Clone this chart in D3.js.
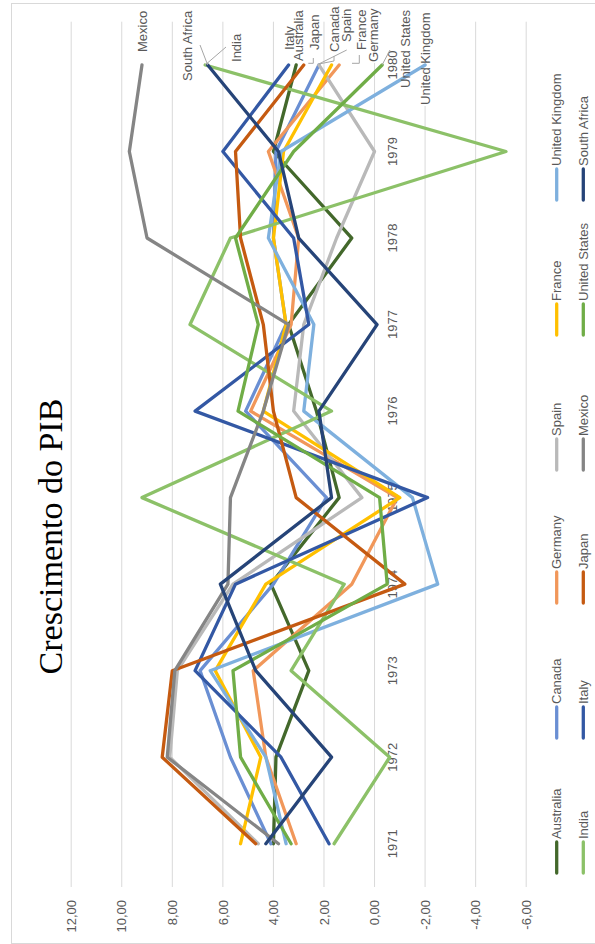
<!DOCTYPE html>
<html><head><meta charset="utf-8">
<script src="https://cdn.jsdelivr.net/npm/d3@7"></script>
<style>html,body{margin:0;padding:0;background:#fff;}svg{display:block;}</style>
</head><body>
<svg id="chart" width="595" height="944"></svg>
<script>
const years = ["1971","1972","1973","1974","1975","1976","1977","1978","1979","1980"];
const valueTicks = [-6,-4,-2,0,2,4,6,8,10,12];
const title = "Crescimento do PIB";

const countries = ["Australia","Canada","Germany","Spain","France","United Kingdom",
                   "India","Italy","Japan","Mexico","United States","South Africa"];
const australia     = [4.0, 3.9, 2.6, 4.1, 1.4, 2.3, 3.4, 0.9, 4.0, 3.1];
const canada        = [4.1, 5.7, 6.9, 4.0, 1.9, 5.1, 3.5, 4.0, 3.9, 2.2];
const germany       = [3.1, 4.3, 4.8, 0.9, -0.9, 4.9, 3.3, 3.0, 4.2, 1.4];
const spain         = [4.6, 8.1, 7.8, 5.6, 0.5, 3.2, 2.8, 1.5, 0.0, 2.2];
const france        = [5.3, 4.5, 6.3, 4.3, -1.0, 4.4, 3.5, 4.0, 3.6, 1.7];
const unitedKingdom = [3.5, 4.3, 6.5, -2.5, -1.5, 2.8, 2.4, 4.2, 3.7, -2.0];
const india         = [1.6, -0.6, 3.3, 1.2, 9.2, 1.7, 7.3, 5.7, -5.2, 6.7];
const italy         = [1.8, 3.7, 7.1, 5.5, -2.1, 7.1, 2.6, 3.2, 6.0, 3.4];
const japan         = [4.7, 8.4, 8.0, -1.2, 3.1, 4.0, 4.4, 5.3, 5.5, 2.8];
const mexico        = [3.8, 8.2, 7.9, 5.8, 5.7, 4.4, 3.4, 9.0, 9.7, 9.2];
const unitedStates  = [3.3, 5.3, 5.6, -0.5, -0.2, 5.4, 4.6, 5.5, 3.2, -0.3];
const southAfrica   = [4.3, 1.7, 4.7, 6.1, 1.7, 2.2, -0.1, 3.0, 3.8, 6.6];

const seriesValues = [australia, canada, germany, spain, france, unitedKingdom,
                      india, italy, japan, mexico, unitedStates, southAfrica];

// styling / layout (not data)
const colors = ["#43682b","#6a8fd3","#f1975a","#b9b9b9","#ffc000","#7eb0de",
                "#8cc168","#3358a4","#c55a11","#858585","#70ad47","#264478"];
// end-label placement relative to the last point: [dx, dy] in chart (landscape) space
const labelOffset = {
  "Mexico":[13,0], "South Africa":[-16,-20], "India":[3,31.5], "Italy":[15,0.7],
  "Australia":[4,2], "Japan":[15,10.8], "Canada":[13,16], "Spain":[23,28],
  "France":[15,29.5], "Germany":[3,34], "United States":[-23,23], "United Kingdom":[-40,0]
};

const svg = d3.select("#chart");
const g = svg.append("g").attr("transform", "translate(0,944) rotate(-90)");
const font = "'Liberation Sans', Arial, sans-serif";
const textCol = "#595959";

// chart frame
g.append("rect").attr("x", 0.5).attr("y", 11.5).attr("width", 940).attr("height", 600)
  .attr("fill", "#fff").attr("stroke", "#d9d9d9").attr("stroke-width", 1);

const x = d3.scaleBand().domain(years).range([57, 922.3]);
const y = d3.scaleLinear().domain([-6, 12]).range([526.2, 71.2]);
const xc = d => x(d) + x.bandwidth() / 2;

// gridlines
g.append("g").selectAll("line").data(valueTicks).join("line")
  .attr("x1", 57).attr("x2", 922.3)
  .attr("y1", d => y(d)).attr("y2", d => y(d))
  .attr("stroke", "#d9d9d9").attr("stroke-width", 1);

// value axis labels
const yAxis = d3.axisLeft(y).tickValues(valueTicks).tickSize(0).tickPadding(0)
  .tickFormat(d => d.toFixed(2).replace(".", ","));
const ya = g.append("g").attr("transform", "translate(44,0)").call(yAxis);
ya.select(".domain").remove();
ya.selectAll("text").attr("font-family", font).attr("font-size", 13).attr("fill", textCol);

// title
g.append("text").attr("x", 407.5).attr("y", 62).attr("text-anchor", "middle")
  .attr("font-family", "'Liberation Serif','Times New Roman',serif").attr("font-size", 34)
  .attr("fill", "#000").text(title);

// label backgrounds (hide gridlines beneath end labels)
const lastIdx = years.length - 1;
const labelLayer = [];
countries.forEach((c, i) => {
  const px = xc(years[lastIdx]), py = y(seriesValues[i][lastIdx]);
  const o = labelOffset[c];
  labelLayer.push({name: c, x: px + o[0], y: py + o[1]});
});
const tmp = g.append("g");
labelLayer.forEach(l => {
  const t = tmp.append("text").attr("x", l.x).attr("y", l.y).attr("dy", "0.35em")
    .attr("font-family", font).attr("font-size", 13).text(l.name);
  l.box = t.node().getBBox();
  t.remove();
});
g.append("g").selectAll("rect").data(labelLayer).join("rect")
  .attr("x", d => d.box.x - 1).attr("y", d => d.box.y + 1)
  .attr("width", d => d.box.width + 2).attr("height", d => d.box.height - 2)
  .attr("fill", "#fff");

// category axis labels along the zero line
const xAxis = d3.axisBottom(x).tickSize(0).tickPadding(0);
const xa = g.append("g").attr("transform", `translate(0,${y(0) + 13})`).call(xAxis);
xa.select(".domain").remove();
xa.selectAll("text").attr("font-family", font).attr("font-size", 13).attr("fill", textCol);

// series lines
const line = d3.line().x((d, i) => xc(years[i])).y(d => y(d));
g.append("g").selectAll("path").data(seriesValues).join("path")
  .attr("d", d => line(d)).attr("fill", "none")
  .attr("stroke", (d, i) => colors[i]).attr("stroke-width", 3.3)
  .attr("stroke-linejoin", "round").attr("stroke-linecap", "round");

// leader lines
const pt = name => { const i = countries.indexOf(name); return [xc(years[lastIdx]), y(seriesValues[i][lastIdx])]; };
const leaders = [
  [pt("South Africa"), [899, 200]],
  [pt("India"), [897, 226]],
  [[886, 313.3], [880.7, 313.3], [880.7, 308.3]],
  [[pt("Canada")[0] + 1, pt("Canada")[1]], [883, 334], [888, 334]],
  [[pt("Spain")[0] + 1, pt("Spain")[1]], [894, 346.7]],
  [[889, 359.3], [880.7, 359.3], [880.7, 352]],
  [pt("United States"), [894, 390]]
];
g.append("g").selectAll("path").data(leaders).join("path")
  .attr("d", d => d3.line()(d)).attr("fill", "none")
  .attr("stroke", "#a6a6a6").attr("stroke-width", 1);

// end labels
g.append("g").selectAll("text").data(labelLayer).join("text")
  .attr("x", d => d.x).attr("y", d => d.y).attr("dy", "0.35em")
  .attr("font-family", font).attr("font-size", 13).attr("fill", textCol)
  .text(d => d.name);

// legend
const legX = [71, 206, 341, 474, 609, 744];
const legY = [556.7, 583.3];
const leg = g.append("g");
countries.forEach((c, i) => {
  const col = i % 6, row = Math.floor(i / 6);
  const lx = legX[col], ly = legY[row];
  leg.append("line").attr("x1", lx).attr("x2", lx + 31).attr("y1", ly).attr("y2", ly)
    .attr("stroke", colors[i]).attr("stroke-width", 3.3).attr("stroke-linecap", "round");
  leg.append("text").attr("x", lx + 34).attr("y", ly).attr("dy", "0.35em")
    .attr("font-family", font).attr("font-size", 13).attr("fill", textCol).text(c);
});
</script>
</body></html>
